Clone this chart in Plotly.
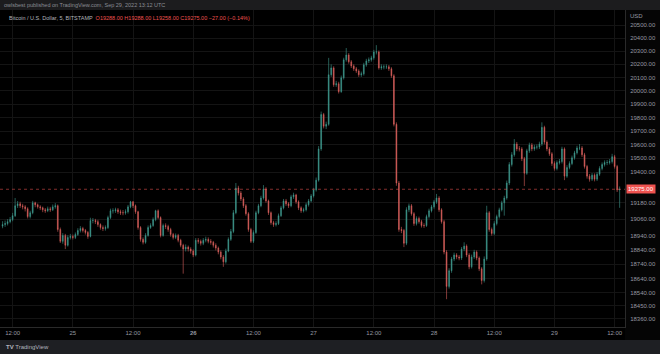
import math
from datetime import datetime, timedelta
import plotly.graph_objects as go

# ---------------- data (30-minute candles) ----------------
start_time = "2022-09-24 10:00"
first_open = 19010
closes = [
 19021,19028,19042,19057,19085,19156,19170,19156,19148,19134,
 19078,19106,19177,19163,19148,19141,19127,19120,19134,19127,
 19148,19156,18986,18902,18944,18874,18930,18937,18930,18951,
 18979,18993,18979,18965,18937,19050,19050,19042,19021,19000,
 18993,19000,19071,19120,19120,19127,19113,19106,19106,19113,
 19148,19184,19156,19113,19000,18916,18895,18944,19000,19014,
 19057,19120,19071,18944,19014,19007,18986,18951,18930,18944,
 18909,18874,18847,18861,18847,18833,18805,18909,18902,18888,
 18909,18916,18902,18895,18874,18854,18826,18791,18757,18833,
 18916,18972,19106,19284,19248,19205,19156,19099,18986,18902,
 18965,19106,19156,19212,19277,19191,19106,19035,19021,19028,
 19085,19141,19191,19170,19156,19220,19234,19184,19141,19120,
 19127,19163,19191,19227,19270,19341,19569,19823,19736,19750,
 20121,20173,20046,20053,19994,20098,20234,20271,20219,20188,
 20166,20150,20121,20128,20196,20226,20234,20249,20294,20294,
 20173,20181,20181,20181,20166,20113,19750,19320,18986,18979,
 18888,19127,19156,19099,19028,19064,19042,19014,19014,19078,
 19120,19148,19184,19212,19127,19042,18826,18585,18695,18777,
 18805,18791,18784,18847,18868,18805,18722,18791,18826,18784,
 18708,18626,18777,19106,18986,18958,19028,19078,19127,19177,
 19212,19320,19455,19526,19605,19569,19569,19497,19391,19555,
 19598,19569,19583,19583,19605,19728,19619,19569,19533,19462,
 19426,19469,19476,19569,19370,19433,19462,19504,19540,19576,
 19576,19526,19440,19370,19348,19377,19348,19384,19426,19455,
 19469,19469,19476,19512,19440,19270,19275]
highs = [
 19045,19050,19060,19075,19105,19212,19190,19185,19170,19160,
 19145,19120,19191,19185,19172,19160,19150,19140,19150,19148,
 19165,19175,19165,19000,18960,18955,18945,18955,18950,18965,
 18995,19010,19005,18990,18975,19070,19068,19062,19055,19030,
 19015,19015,19085,19135,19138,19142,19140,19128,19125,19130,
 19162,19191,19190,19165,19120,19010,18930,18960,19015,19030,
 19072,19127,19130,19080,19028,19030,19020,18998,18962,18958,
 18955,18920,18885,18880,18872,18860,18845,18925,18925,18915,
 18925,18935,18930,18918,18905,18888,18865,18838,18805,18850,
 18930,18990,19125,19320,19300,19262,19218,19168,19110,18998,
 18980,19120,19170,19228,19305,19290,19200,19115,19048,19045,
 19100,19155,19205,19205,19182,19235,19250,19242,19195,19152,
 19142,19178,19205,19240,19285,19360,19590,19845,19835,19770,
 20249,20200,20185,20075,20068,20115,20250,20324,20285,20232,
 20200,20180,20162,20145,20212,20242,20252,20265,20310,20346,
 20305,20200,20198,20200,20195,20178,20125,19765,19335,19005,
 18990,19145,19172,19168,19110,19080,19078,19055,19030,19092,
 19135,19162,19198,19241,19225,19138,19055,18840,18712,18792,
 18822,18818,18805,18862,18895,18880,18818,18808,18842,18838,
 18795,18720,18795,19156,19118,19000,19045,19092,19142,19192,
 19228,19338,19472,19545,19641,19620,19590,19582,19510,19570,
 19615,19612,19600,19602,19622,19765,19740,19632,19582,19545,
 19478,19485,19495,19585,19580,19450,19478,19520,19555,19592,
 19605,19590,19540,19452,19385,19392,19390,19400,19442,19470,
 19485,19488,19495,19533,19525,19452,19295]
lows = [
 18995,19005,19015,19030,19045,19075,19140,19140,19130,19115,
 19065,19065,19095,19145,19135,19125,19110,19105,19110,19112,
 19118,19135,18970,18890,18885,18847,18865,18915,18915,18918,
 18940,18965,18965,18950,18920,18930,19030,19025,19005,18985,
 18975,18978,18990,19060,19100,19105,19098,19090,19088,19092,
 19100,19138,19140,19098,18985,18900,18880,18885,18935,18990,
 19005,19045,19060,18930,18935,18990,18970,18935,18915,18918,
 18895,18860,18674,18830,18830,18815,18790,18795,18885,18872,
 18875,18895,18888,18878,18858,18838,18810,18775,18722,18745,
 18825,18905,18960,19095,19230,19190,19140,19085,18970,18890,
 18890,18955,19095,19145,19200,19178,19090,19020,19005,19008,
 19018,19075,19130,19155,19140,19145,19205,19170,19125,19105,
 19108,19115,19150,19180,19215,19258,19330,19555,19720,19715,
 19740,20105,20030,20030,19980,19985,20085,20220,20205,20172,
 20150,20135,20105,20105,20115,20182,20210,20220,20235,20275,
 20160,20158,20162,20165,20150,20098,19735,19300,18970,18960,
 18861,18875,19110,19085,19012,19015,19028,19000,18998,19005,
 19065,19108,19135,19170,19112,19028,18810,18496,18570,18680,
 18762,18775,18768,18770,18832,18790,18705,18710,18778,18768,
 18692,18599,18612,18765,18970,18942,18945,19015,19065,19115,
 19085,19200,19305,19440,19512,19552,19550,19480,19298,19380,
 19540,19552,19555,19565,19568,19592,19602,19552,19518,19445,
 19410,19412,19455,19462,19341,19358,19420,19450,19490,19528,
 19560,19510,19425,19352,19330,19335,19332,19335,19372,19412,
 19440,19450,19455,19462,19425,19255,19141]

x_tick_times = ["2022-09-24 12:00", "2022-09-25 00:00", "2022-09-25 12:00",
                "2022-09-26 00:00", "2022-09-26 12:00", "2022-09-27 00:00",
                "2022-09-27 12:00", "2022-09-28 00:00", "2022-09-28 12:00",
                "2022-09-29 00:00", "2022-09-29 12:00"]
x_tick_labels = ["12:00", "25", "12:00", "<b>26</b>", "12:00", "27",
                 "12:00", "28", "12:00", "29", "12:00"]
y_tick_values = [20500, 20400, 20300, 20200, 20100, 20000, 19900, 19800,
                 19700, 19600, 19500, 19400, 19180, 19060, 18940, 18840,
                 18740, 18640, 18540, 18450, 18360]
last_price = 19275
header_title = "Bitcoin / U.S. Dollar, 5, BITSTAMP"
header_ohlc = "O19288.00 H19288.00 L19258.00 C19275.00 −27.00 (−0.14%)"
published = "owlsbest published on TradingView.com, Sep 29, 2022 13:12 UTC"

# ---------------- build ----------------
t0 = datetime.strptime(start_time, "%Y-%m-%d %H:%M")
times = [t0 + timedelta(minutes=30 * i) for i in range(len(closes))]
opens = [first_open] + closes[:-1]

W, H = 660, 354
PX_RIGHT = 625   # end of chart pane
PY_TOP, PY_BOT = 10, 327

UP, DOWN = "#3f9a8f", "#d9605c"
TXT = "#9598a1"

fig = go.Figure(go.Candlestick(
    x=times, open=opens, high=highs, low=lows, close=closes,
    increasing=dict(line=dict(color=UP, width=0.6), fillcolor=UP),
    decreasing=dict(line=dict(color=DOWN, width=0.6), fillcolor=DOWN),
    whiskerwidth=0, hoverinfo="skip", showlegend=False,
))

y_lo, y_hi = 18304, 20616
fig.update_layout(
    width=W, height=H, margin=dict(l=0, r=0, t=0, b=0),
    paper_bgcolor="#000000", plot_bgcolor="#000000",
    font=dict(family="Liberation Sans, Arial, sans-serif", color=TXT, size=6),
    showlegend=False, hovermode=False, boxgap=0.55,
    xaxis=dict(
        domain=[0, PX_RIGHT / W], type="date",
        range=["2022-09-24 09:29", "2022-09-29 14:04"],
        rangeslider=dict(visible=False),
        tickmode="array", tickvals=x_tick_times, ticktext=x_tick_labels,
        tickfont=dict(size=6, color=TXT), ticks="", ticklen=0,
        showgrid=True, gridcolor="#141414", gridwidth=1,
        zeroline=False, showline=True, linecolor="#2a2a2a", linewidth=1,
        fixedrange=True,
    ),
    yaxis=dict(
        domain=[1 - PY_BOT / H, 1 - PY_TOP / H], type="log", side="right",
        range=[math.log10(y_lo), math.log10(y_hi)],
        tickmode="array", tickvals=y_tick_values,
        ticktext=[f"{v:.2f}" for v in y_tick_values],
        tickfont=dict(size=6, color=TXT), ticks="", ticklabelstandoff=3,
        showgrid=True, gridcolor="#141414", gridwidth=1,
        zeroline=False, showline=True, linecolor="#2a2a2a", linewidth=1,
        fixedrange=True,
    ),
)

shapes = [
    dict(type="rect", xref="paper", yref="paper", x0=0, x1=1, y0=1 - 10 / H, y1=1,
         fillcolor="#1c1c1e", line_width=0, layer="below"),
    dict(type="rect", xref="paper", yref="paper", x0=0, x1=1, y0=0, y1=1 - 340 / H,
         fillcolor="#1e1f23", line_width=0, layer="below"),
    dict(type="rect", xref="paper", yref="paper", x0=PX_RIGHT / W, x1=1,
         y0=1 - 340 / H, y1=1 - 10 / H, fillcolor="#050505", line_width=0, layer="below"),
    dict(type="line", xref="x domain", yref="y", x0=0, x1=1, y0=last_price, y1=last_price,
         line=dict(color="rgba(239,83,80,0.55)", width=1, dash="dot")),
]
fig.update_layout(shapes=shapes)

ann = [
    dict(text=published, x=2 / W, y=1 - 5 / H, xref="paper", yref="paper",
         xanchor="left", yanchor="middle", showarrow=False,
         font=dict(size=5.5, color="#8a8d94")),
    dict(text=header_title + "  <span style='color:#ef5350'>" + header_ohlc + "</span>",
         x=7 / W, y=1 - 18 / H, xref="paper", yref="paper",
         xanchor="left", yanchor="middle", showarrow=False,
         font=dict(size=5.5, color="#b2b5be")),
    dict(text="USD", x=(PX_RIGHT + 3) / W, y=1 - 16 / H, xref="paper", yref="paper",
         xanchor="left", yanchor="middle", showarrow=False,
         font=dict(size=6, color=TXT)),
    dict(text=f"{last_price:.2f}", x=(PX_RIGHT + 1) / W, y=math.log10(last_price),
         xref="paper", yref="y", xanchor="left", yanchor="middle", showarrow=False,
         bgcolor="#ef5350", borderpad=1, font=dict(size=6, color="#ffffff")),
    dict(text="<b>TV</b> TradingView", x=4 / W, y=1 - 347 / H, xref="paper", yref="paper",
         xanchor="left", yanchor="middle", showarrow=False,
         font=dict(size=6, color="#b2b5be")),
]
fig.update_layout(annotations=ann)

fig.write_html("out.html", config=dict(staticPlot=True))
